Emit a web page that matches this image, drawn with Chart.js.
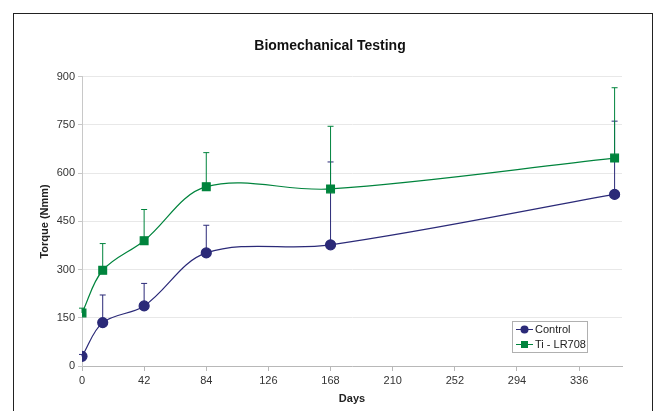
<!DOCTYPE html>
<html>
<head>
<meta charset="utf-8">
<script src="https://cdn.jsdelivr.net/npm/chart.js@4"></script>
<style>
    html, body { margin: 0; padding: 0; background: #fff; overflow: hidden; }
    #wrap { position: relative; width: 657px; height: 411px; }
    #frame { position: absolute; left: 13px; top: 13px; width: 638px; height: 420px; border: 1px solid #222; }
    canvas { position: absolute; left: 0; top: 0; }
</style>
</head>
<body>
<div id="wrap">
    <div id="frame"></div>
    <canvas id="torqueChart" width="657" height="411"></canvas>
</div>
<script>
const days = [0, 14, 42, 84, 168, 360];
const controlTorque = [30, 135, 187, 352, 377, 534];
const controlSd = [6, 86, 70, 86, 258, 228];
const tiTorque = [165, 298, 390, 558, 551, 647];
const tiSd = [15, 83, 97, 106, 195, 219];
const xTicks = [0, 42, 84, 126, 168, 210, 252, 294, 336];
const yTicks = [0, 150, 300, 450, 600, 750, 900];

const FONT = '"Liberation Sans", Arial, sans-serif';
const NAVY = '#2b2a78';
const GREEN = '#00843d';

// upward-only error bars, drawn under the lines
const errorBars = {
    id: 'errorBars',
    beforeDatasetsDraw(chart) {
        const { ctx, scales: { x, y } } = chart;
        chart.data.datasets.forEach((ds) => {
            ctx.save();
            ctx.strokeStyle = ds.borderColor;
            ctx.lineWidth = 1;
            ds.data.forEach((pt, i) => {
                const px = x.getPixelForValue(pt.x);
                const y0 = y.getPixelForValue(pt.y);
                const y1 = y.getPixelForValue(pt.y + ds.sd[i]);
                ctx.beginPath();
                ctx.moveTo(px, y0);
                ctx.lineTo(px, y1);
                ctx.moveTo(px - 3, y1);
                ctx.lineTo(px + 3, y1);
                ctx.stroke();
            });
            ctx.restore();
        });
    },
};

// boxed legend inside the plot, bottom right
const boxLegend = {
    id: 'boxLegend',
    afterDraw(chart) {
        const { ctx, chartArea } = chart;
        const w = 75, h = 31;
        const left = chartArea.right - 110;
        const top = chartArea.bottom - 45;
        ctx.save();
        ctx.fillStyle = '#fff';
        ctx.fillRect(left, top, w, h);
        ctx.strokeStyle = '#b0b0b0';
        ctx.lineWidth = 1;
        ctx.strokeRect(left + 0.5, top + 0.5, w, h);
        ctx.font = '11px ' + FONT;
        ctx.textBaseline = 'middle';
        chart.data.datasets.forEach((ds, i) => {
            const cy = top + 8.5 + i * 15;
            ctx.strokeStyle = ds.borderColor;
            ctx.beginPath();
            ctx.moveTo(left + 4, cy);
            ctx.lineTo(left + 21, cy);
            ctx.stroke();
            ctx.fillStyle = ds.borderColor;
            if (ds.pointStyle === 'rect') {
                ctx.fillRect(left + 9, cy - 3.5, 7, 7);
            } else {
                ctx.beginPath();
                ctx.arc(left + 12.5, cy, 4, 0, Math.PI * 2);
                ctx.fill();
            }
            ctx.fillStyle = '#222';
            ctx.fillText(ds.label, left + 23, cy + 0.5);
        });
        ctx.restore();
    },
};

const ctx = document.getElementById('torqueChart').getContext('2d');

new Chart(ctx, {
    type: 'line',
    data: {
        datasets: [
            {
                label: 'Control',
                data: days.map((d, i) => ({ x: d, y: controlTorque[i] })),
                sd: controlSd,
                borderColor: NAVY,
                backgroundColor: NAVY,
                borderWidth: 1.2,
                pointStyle: 'circle',
                pointRadius: 5,
                tension: 0.35,
            },
            {
                label: 'Ti - LR708',
                data: days.map((d, i) => ({ x: d, y: tiTorque[i] })),
                sd: tiSd,
                borderColor: GREEN,
                backgroundColor: GREEN,
                borderWidth: 1.2,
                pointStyle: 'rect',
                pointRadius: 5.5,
                tension: 0.35,
            },
        ],
    },
    options: {
        responsive: false,
        devicePixelRatio: 1,
        animation: false,
        layout: {
            padding: { left: 38, right: 35, top: 0, bottom: 5 },
        },
        scales: {
            x: {
                type: 'linear',
                min: 0,
                max: 365,
                afterBuildTicks: (scale) => {
                    scale.ticks = xTicks.map((v) => ({ value: v }));
                },
                afterFit: (scale) => {
                    scale.height = 40;
                },
                grid: {
                    drawOnChartArea: false,
                    tickLength: 5,
                    tickColor: '#b8b8b8',
                },
                border: { color: '#b8b8b8' },
                ticks: {
                    padding: 3,
                    color: '#333',
                    font: { family: FONT, size: 11 },
                    maxRotation: 0,
                },
                title: {
                    display: true,
                    text: 'Days',
                    color: '#222',
                    padding: 0,
                    font: { family: FONT, size: 11, weight: 'bold' },
                },
            },
            y: {
                min: 0,
                max: 900,
                afterBuildTicks: (scale) => {
                    scale.ticks = yTicks.map((v) => ({ value: v }));
                },
                afterFit: (scale) => {
                    scale.width = 44;
                },
                grid: {
                    color: '#e8e8e8',
                    tickLength: 4,
                    tickColor: '#c8c8c8',
                },
                border: { color: '#c8c8c8' },
                ticks: {
                    padding: 3,
                    color: '#333',
                    font: { family: FONT, size: 11 },
                },
                title: {
                    display: true,
                    text: 'Torque (Nmm)',
                    color: '#222',
                    padding: 0,
                    font: { family: FONT, size: 11, weight: 'bold' },
                },
            },
        },
        plugins: {
            legend: { display: false },
            tooltip: { enabled: false },
            title: {
                display: true,
                text: 'Biomechanical Testing',
                color: '#111',
                padding: { top: 38, bottom: 22 },
                font: { family: FONT, size: 14, weight: 'bold' },
            },
        },
    },
    plugins: [errorBars, boxLegend],
});
</script>
</body>
</html>
